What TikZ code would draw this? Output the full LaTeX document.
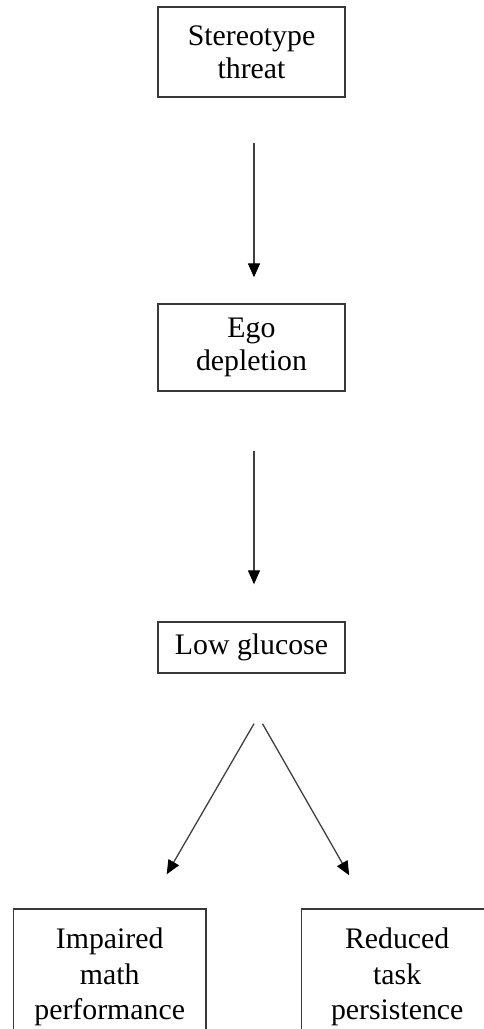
\documentclass[tikz,border=0pt]{standalone}
\usepackage{fontspec}
\setmainfont{Liberation Serif}
\usetikzlibrary{arrows.meta}
\begin{document}
\begin{tikzpicture}[x=1pt,y=-1pt,
  box/.style={draw=black!78,line width=1.4pt,inner sep=0pt,align=center,
    font=\fontsize{29.8}{33}\selectfont},
  lowbox/.style={box,font=\fontsize{29.8}{35.5}\selectfont},
  arr/.style={draw=black!75,line width=1.3pt,-{Triangle[length=14pt,width=12pt,color=black]}}]
\clip (0,0) rectangle (484,1029);
\fill[white] (0,0) rectangle (484,1029);
\node[box,minimum width=187pt,minimum height=90pt] (s) at (251.5,52) {Stereotype\\threat};
\node[box,minimum width=187pt,minimum height=87pt] (e) at (251.5,347.5) {Ego\\depletion};
\node[box,minimum width=187pt,minimum height=51pt] (g) at (251.5,647.5) {Low glucose};
\node[lowbox,minimum width=192.7pt,minimum height=136pt] (m) at (109.7,977) {Impaired\\math\\performance};
\node[lowbox,minimum width=191pt,minimum height=136pt] (p) at (397.2,977) {Reduced\\task\\persistence};
\draw[arr] ([xshift=2.5pt,yshift=-45pt]s.south) -- ([xshift=2.5pt,yshift=26pt]e.north);
\draw[arr] ([xshift=2.5pt,yshift=-59pt]e.south) -- ([xshift=2.5pt,yshift=37pt]g.north);
\draw[arr] ([xshift=2.5pt,yshift=-50pt]g.south) -- ([xshift=57pt,yshift=34pt]m.north);
\draw[arr] ([xshift=11pt,yshift=-50pt]g.south) -- ([xshift=-48pt,yshift=33pt]p.north);
\end{tikzpicture}
\end{document}
